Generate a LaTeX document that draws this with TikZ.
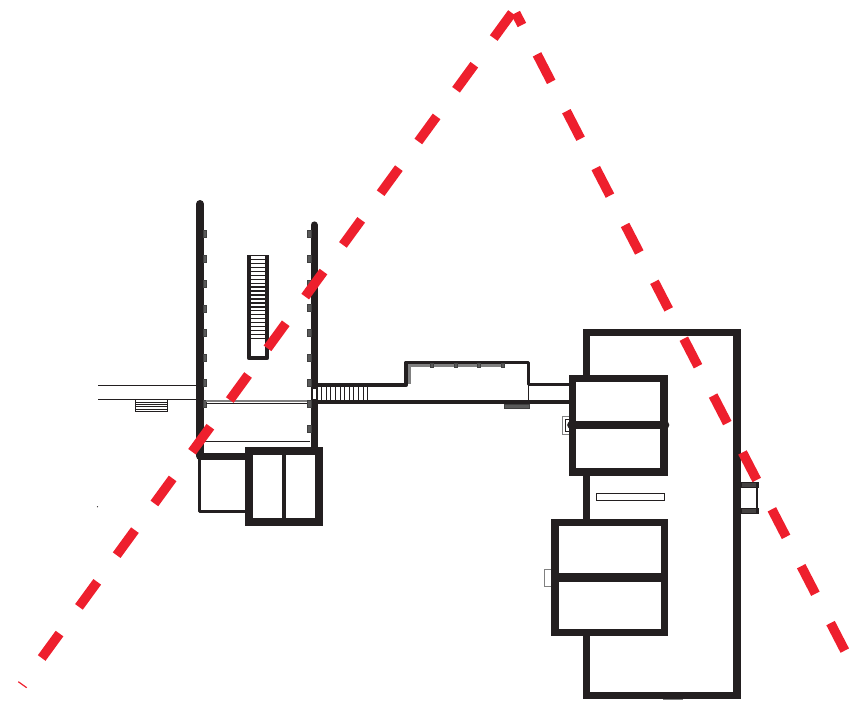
\documentclass[tikz,border=0pt]{standalone}
\usepackage{xcolor}
\definecolor{wallblack}{HTML}{231F20}
\definecolor{wallgray}{HTML}{808080}
\definecolor{sightred}{HTML}{EE1F2D}

\begin{document}
\begin{tikzpicture}[x=1pt, y=-1pt,
    heavywall/.style={draw=wallblack, line width=7.5pt, line join=miter},
    midwall/.style={draw=wallblack, line width=3.8pt, line join=round},
    thinwall/.style={draw=wallblack, line width=1pt},
    graywall/.style={draw=wallgray, line width=1.4pt},
    pilaster/.style={fill=wallgray!70!black, draw=wallgray!50!black, line width=0.4pt},
    sightline/.style={draw=sightred, line width=9.5pt}]
    \useasboundingbox (0,0) rectangle (849,702);

    % Sight line points
    \coordinate (apexL) at (512,13);
    \coordinate (apexR) at (515.7,13);
    \coordinate (endL) at (41.7,658);
    \coordinate (endR) at (845.5,652);
    \coordinate (tickA) at (18.3,681.7);
    \coordinate (tickB) at (26.7,687.7);

    % Long hall walls
    \draw[heavywall, line width=8pt, line cap=round] (200,204) -- (200,456);
    \draw[heavywall, line width=7.2pt, line cap=round] (314.3,225) -- (314.3,450);
    \foreach \y in {234,259,284,309,333,358,383,404}
        \draw[pilaster] (203.5,\y-3.5) rectangle (206,\y+3.5);
    \foreach \y in {233.7,258.7,283.7,308,333,358,383,404,429}
        \draw[pilaster] (307.5,\y-3.5) rectangle (310.7,\y+3.5);
    \draw[fill=white, thinwall] (312.7,388.5) rectangle (316.3,399);

    % Cross bars in the hall
    \draw[graywall] (206,401) -- (307,401);
    \draw[thinwall] (206,403.5) -- (307,403.5);
    \draw[thinwall] (205,441) -- (310,441);

    % West passage
    \draw[thinwall] (98,385) -- (197,385);
    \draw[thinwall, line width=1.4pt] (98,399.5) -- (197,399.5);
    \draw[thinwall, fill=white] (135.7,399.5) rectangle (167.3,411.7);
    \foreach \y in {402,404.4,406.8,409.2}
        \draw[thinwall, line width=0.7pt] (135.7,\y) -- (167.3,\y);
    \fill[wallblack] (97.5,506.7) circle (0.6);

    % Stair in the hall
    \draw[midwall, line width=4.2pt] (248.8,255) -- (248.8,358) -- (267,358) -- (267,255);
    \foreach \i in {0,...,21}
        \draw[thinwall, line width=1.3pt] (250,255.5+3.95*\i) -- (266,255.5+3.95*\i);

    % South rooms of the hall
    \draw[heavywall] (200,456.7) -- (246,456.7);
    \draw[draw=wallblack, line width=3.4pt, line join=round] (199.3,456.7) -- (199.3,511.7) -- (246,511.7);
    \draw[heavywall, fill=white] (249,451) rectangle (319,522);
    \draw[midwall] (283.7,451) -- (283.7,522);

    % Link building
    \draw[midwall] (314,385) -- (406.2,385) -- (406.2,362.4) -- (528.5,362.4) -- (528.5,384.5) -- (572,384.5);
    \draw[midwall] (314,401.7) -- (572,401.7);
    \draw[graywall, line width=2.4pt] (408,365.4) -- (505,365.4);
    \draw[graywall, line width=2.8pt] (409.5,366) -- (409.5,384);
    \foreach \x in {432,456,479,503}
        \draw[pilaster] (\x-1.5,363.5) rectangle (\x+1.5,367);
    \foreach \i in {0,...,11}
        \draw[thinwall, line width=0.8pt] (316.8+4.63*\i,386.5) -- (316.8+4.63*\i,400);
    \draw[thinwall, line width=0.7pt] (528.7,385) -- (528.7,408);
    \draw[pilaster] (504.3,404) rectangle (528.7,408);

    % East block
    \draw[heavywall] (586.7,332.7) rectangle (737,695.5);
    \draw[graywall] (663,699.7) -- (683,699.7);
    \draw[fill=white, thinwall] (596.3,493.3) rectangle (664,500.7);

    % Door boxes
    \draw[graywall, fill=white] (562.3,416.7) rectangle (570,434.3);
    \draw[thinwall, line width=1.2pt] (565.5,419.5) rectangle (570,431.5);
    \draw[graywall, fill=white] (544.7,569.3) rectangle (552,586.7);
    \draw[fill=wallblack!85!white, draw=wallblack] (740.7,482.3) rectangle (758,487.3);
    \draw[fill=wallblack!85!white, draw=wallblack] (740.7,508) rectangle (758,512.7);
    \draw[draw=wallblack, line width=1.6pt] (757,482.3) -- (757,512.7);
    \fill[white] (741,487.6) rectangle (756,507.7);

    % East rooms
    \draw[heavywall, fill=white] (572.7,378.7) rectangle (664,472);
    \draw[heavywall, line width=8.7pt, line cap=round] (571.5,425) -- (665,425);
    \draw[heavywall, fill=white] (555,522.3) rectangle (664.3,632.3);
    \draw[heavywall, line width=8.7pt] (555,577.3) -- (664.3,577.3);

    % Sight lines
    \draw[sightline, dash pattern=on 31pt off 33pt] (apexL) -- (endL);
    \draw[sightline, dash pattern=on 31pt off 33pt, dash phase=17.5pt] (apexR) -- (endR);
    \draw[draw=sightred, line width=1.2pt] (tickA) -- (tickB);
\end{tikzpicture}
\end{document}
